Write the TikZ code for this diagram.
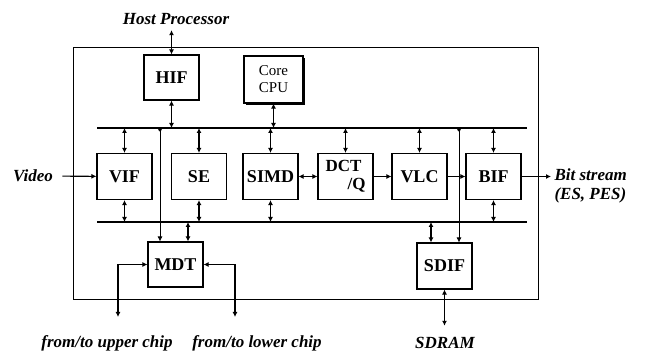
\documentclass[tikz,border=0pt]{standalone}
\usepackage{fontspec}
\setmainfont{Liberation Serif}
\usetikzlibrary{arrows.meta, positioning, shadows}

\begin{document}
\begin{tikzpicture}[
    x=1pt, y=-1pt,
    every node/.style={font=\fontsize{16}{18}\selectfont},
    block/.style={draw, line width=1.1pt, minimum width=55pt, minimum height=46pt,
        inner sep=0pt, fill=white, font=\fontsize{18}{19}\selectfont\bfseries},
    bus/.style={line width=2.6pt},
    link/.style={line width=1.1pt, {Latex[length=5pt,width=5pt]}-{Latex[length=5pt,width=5pt]}},
    flow/.style={line width=1.1pt, -{Latex[length=5pt,width=5pt]}},
    tap/.style={line width=0.7pt, {Circle[length=3.5pt]}-{Latex[length=5pt,width=5pt]}},
    extlabel/.style={font=\fontsize{17}{19}\selectfont\bfseries\itshape},
]
\useasboundingbox (0,0) rectangle (646,352);

% === Chip outline ===
\draw[line width=1pt] (73,48) rectangle (538,300);

% === Buses ===
\coordinate (ubusL) at (97,128);
\coordinate (ubusR) at (527,128);
\coordinate (lbusL) at (97,222);
\coordinate (lbusR) at (527,222);
\draw[bus] (ubusL) -- (ubusR);
\draw[bus] (lbusL) -- (lbusR);

% === Top blocks ===
\node[block, minimum height=45pt] (hif) at (171.5,77.5) {HIF};
\node[block, minimum width=59pt, minimum height=47pt, align=center,
    font=\fontsize{15}{17}\selectfont,
    drop shadow={shadow xshift=2pt, shadow yshift=-2pt, fill=black, opacity=1}]
    (cpu) at (273.5,79.5) {Core\\CPU};

% === Processing row ===
\node[block] (vif)  at (124.5,176.5) {VIF};
\node[block] (se)   at (199,176.5)   {SE};
\node[block] (simd) at (270.5,176.5) {SIMD};
\node[block, align=left, font=\fontsize{17}{19}\selectfont\bfseries] (dct) at (345.5,176.5) {DCT\\[-1pt]\hspace*{22pt}/Q};
\node[block] (vlc)  at (419.5,176.5) {VLC};
\node[block] (bif)  at (493.5,176.5) {BIF};

% === Bottom blocks ===
\node[block, minimum height=45pt] (mdt)  at (175.5,264.5) {MDT};
\node[block] (sdif) at (444.5,266) {SDIF};

% === Outside labels ===
\node[extlabel] (host)  at (176,19)  {Host Processor};
\node[extlabel] (video) at (33,176)  {Video};
\node[extlabel, align=left, anchor=west] (bits) at (551,186) {Bit stream\\(ES, PES)};
\node[extlabel] (uplabel)  at (107,343) {from/to upper chip};
\node[extlabel] (lowlabel) at (257,343) {from/to lower chip};
\node[extlabel] (sdram) at (445,343) {SDRAM};

% === Bus taps ===
\draw[link, shorten >=2pt] (hif.north) -- (hif.north |- host.south);
\draw[link] (hif.south) -- (hif.south |- ubusL);
\draw[link] (cpu.south) -- (cpu.south |- ubusL);
\foreach \blk in {vif, se, simd, bif} {
    \draw[link] (\blk.north) -- (\blk.north |- ubusL);
    \draw[link] (\blk.south) -- (\blk.south |- lbusL);
}
\draw[link] (dct.north) -- (dct.north |- ubusL);
\draw[link] (vlc.north) -- (vlc.north |- ubusL);

% === Data path ===
\draw[flow, shorten <=6pt] (video) -- (vif);
\draw[link] (simd) -- (dct);
\draw[flow] (dct) -- (vlc);
\draw[flow] (vlc) -- (bif);
\draw[flow] (bif) -- (bif -| bits.west);

% === Memory transfer ===
\coordinate (tapA) at (160,128);
\coordinate (tapB) at (459,128);
\draw[tap] (tapA) -- (tapA |- mdt.north);
\draw[tap] (tapB) -- (tapB |- sdif.north);
\coordinate (mdtbus) at (188,222);
\coordinate (sdifbus) at (431,222);
\draw[link] (mdtbus) -- (mdtbus |- mdt.north);
\draw[link] (sdifbus) -- (sdifbus |- sdif.north);

\coordinate (upchip) at (118,317);
\coordinate (lowchip) at (235,317);
\draw[link] (upchip) |- (mdt.west);
\draw[link] (lowchip) |- (mdt.east);
\draw[link, shorten >=8pt] (sdif.south) -- (sdif.south |- sdram.north);

\end{tikzpicture}
\end{document}
